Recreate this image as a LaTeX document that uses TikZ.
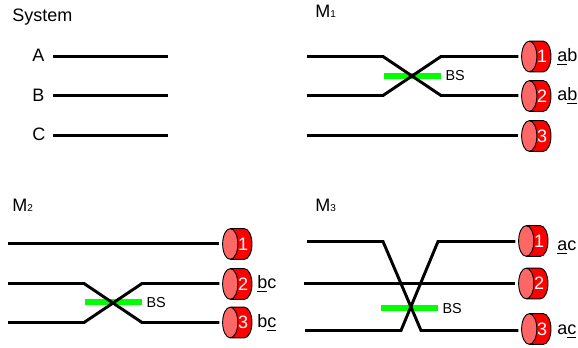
\documentclass[tikz,border=0pt]{standalone}
\usepackage{fontspec}
\setmainfont{Liberation Sans}
\usetikzlibrary{positioning,shapes.geometric}
\definecolor{detred}{RGB}{255,0,0}
\definecolor{detend}{RGB}{255,102,102}
\definecolor{bsgreen}{RGB}{0,255,0}
\newcommand{\dgt}[1]{{\fontsize{7.5pt}{7.5pt}\selectfont #1}}
\begin{document}
\begin{tikzpicture}[x=0.75pt, y=-0.75pt,
	det/.style = {draw, line width=0.7pt, cylinder, shape border rotate=180, shape aspect=1.2, cylinder uses custom fill, cylinder body fill=detred, cylinder end fill=detend, minimum height=22pt, minimum width=23pt, inner sep=0pt, outer sep=2.5pt, text height=9.5pt, text depth=0pt, xshift=3.25pt, label={[text=white, inner sep=0pt, xshift=1.4pt, font=\fontsize{13.5pt}{13.5pt}\selectfont]center:#1}},
	bar/.style = {fill=bsgreen, minimum width=42.75pt, minimum height=4.5pt, inner sep=0pt},
	beam/.style = {line width=2.2pt},
	txt/.style = {inner sep=0pt, anchor=base west, font=\fontsize{13.5pt}{13.5pt}\selectfont},
	bs/.style = {right=3pt of #1, inner sep=0pt, font=\fontsize{10.8pt}{10.8pt}\selectfont}]
	\useasboundingbox (0,0) rectangle (578,348);
	% System
	\node[txt] (sys) at (12,22) {System};
	\node[txt] (A) at (32,62) {A};
	\node[txt] (B) at (32,101.5) {B};
	\node[txt] (C) at (32,141) {C};
	\coordinate (a1) at (53,56.5);
	\coordinate (a2) at (168,56.5);
	\coordinate (b1) at (53,95.5);
	\coordinate (b2) at (168,95.5);
	\coordinate (c1) at (53,135.5);
	\coordinate (c2) at (168,135.5);
	\draw[beam] (a1) -- (a2);
	\draw[beam] (b1) -- (b2);
	\draw[beam] (c1) -- (c2);
	% M1
	\node[txt] (m1) at (315,18) {M\dgt{1}};
	\node[bar] (bar1) at (412.5,76) {};
	\node[bs=bar1] (bs1) {BS};
	\node[det=1] (d11) at (536,56.5) {};
	\node[det=2] (d12) at (536,96) {};
	\node[det=3] (d13) at (536,136) {};
	\node[txt] (l11) at (557,62) {\underline{a}b};
	\node[txt] (l12) at (557,101) {a\underline{b}};
	\coordinate (p1) at (307,56.5);
	\coordinate (p2) at (383,56.5);
	\coordinate (p3) at (441,95.5);
	\coordinate (q1) at (307,95.5);
	\coordinate (q2) at (383,95.5);
	\coordinate (q3) at (441,56.5);
	\coordinate (r1) at (307,135.5);
	\draw[beam] (p1) -- (p2) -- (p3) -- (d12.west |- p3);
	\draw[beam] (q1) -- (q2) -- (q3) -- (d11.west |- q3);
	\draw[beam] (r1) -- (d13.west |- r1);
	% M2
	\node[txt] (m2) at (12,212) {M\dgt{2}};
	\node[bar] (bar2) at (113.5,302.5) {};
	\node[bs=bar2] (bs2) {BS};
	\node[det=1] (d21) at (237,244) {};
	\node[det=2] (d22) at (237,284) {};
	\node[det=3] (d23) at (237,322.5) {};
	\node[txt] (l22) at (257,289) {\underline{b}c};
	\node[txt] (l23) at (257,328) {b\underline{c}};
	\coordinate (s1) at (8,243.5);
	\coordinate (t1) at (8,283.5);
	\coordinate (t2) at (84,283.5);
	\coordinate (t3) at (142,322.5);
	\coordinate (u1) at (8,322.5);
	\coordinate (u2) at (84,322.5);
	\coordinate (u3) at (142,283.5);
	\draw[beam] (s1) -- (d21.west |- s1);
	\draw[beam] (t1) -- (t2) -- (t3) -- (d23.west |- t3);
	\draw[beam] (u1) -- (u2) -- (u3) -- (d22.west |- u3);
	% M3
	\node[txt] (m3) at (315,212) {M\dgt{3}};
	\node[bar] (bar3) at (409.5,308.5) {};
	\node[bs=bar3] (bs3) {BS};
	\node[det=1] (d31) at (533,241) {};
	\node[det=2] (d32) at (533,283.5) {};
	\node[det=3] (d33) at (536,329) {};
	\node[txt] (l31) at (557,251) {\underline{a}c};
	\node[txt] (l33) at (557,335) {a\underline{c}};
	\coordinate (v1) at (307,241.5);
	\coordinate (v2) at (383,241.5);
	\coordinate (v3) at (421,330.5);
	\coordinate (w1) at (305,330.5);
	\coordinate (w2) at (401,330.5);
	\coordinate (w3) at (438,241.5);
	\coordinate (y1) at (304,283.5);
	\draw[beam] (v1) -- (v2) -- (v3) -- (d33.west |- v3);
	\draw[beam] (w1) -- (w2) -- (w3) -- (d31.west |- w3);
	\draw[beam] (y1) -- (d32.west |- y1);
\end{tikzpicture}
\end{document}
